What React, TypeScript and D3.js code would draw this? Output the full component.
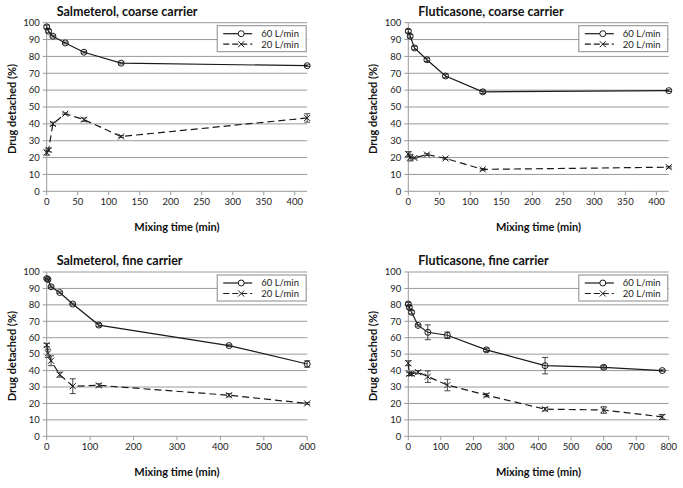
import React from 'react';
import * as d3 from 'd3';

// chart data
const titles = ['Salmeterol, coarse carrier', 'Fluticasone, coarse carrier', 'Salmeterol, fine carrier', 'Fluticasone, fine carrier'];
const seriesNames = ['60 L/min', '20 L/min'];
const yTicks = [0, 10, 20, 30, 40, 50, 60, 70, 80, 90, 100];

const coarseTime = [0, 3, 10, 30, 60, 120, 420];
const salCoarse60 = [97.5, 95, 92, 88, 82.5, 76, 74.5];
const salCoarse60Err = [1, 1, 0.5, 0.5, 0.5, 0.5, 0.5];
const salCoarse20 = [23, 24.5, 40, 46, 42.5, 32.5, 43.5];
const salCoarse20Err = [1.5, 1, 1, 0.5, 1, 0.5, 2.5];

const fluCoarse60 = [95, 92, 85, 78, 68.4, 59, 59.7];
const fluCoarse60Err = [1, 1, 1, 1, 1, 1, 0.5];
const fluCoarse20 = [22, 20, 19.8, 21.8, 19.5, 13, 14.3];
const fluCoarse20Err = [1.5, 2, 0.5, 0.5, 0.5, 0.5, 0.5];

const salFineTime = [0, 3, 10, 30, 60, 120, 420, 600];
const salFine60 = [96, 95.5, 91, 87.5, 80.5, 67.7, 55.2, 44];
const salFine60Err = [0.5, 0.5, 0.5, 0.5, 0.5, 1, 0.5, 2];
const salFine20 = [55.5, 50.5, 46, 37.5, 30.5, 31, 25, 20];
const salFine20Err = [1, 2.5, 3, 1.5, 4.5, 1, 1, 0.5];

const fluFineTime = [0, 3, 10, 30, 60, 120, 240, 420, 600, 780];
const fluFine60 = [80.5, 78.5, 75.5, 67.5, 63.3, 61.5, 52.6, 43, 42, 40];
const fluFine60Err = [1, 1, 1, 0.5, 4.5, 2, 1, 5, 1, 0.5];
const fluFine20 = [44.5, 38, 38, 39, 36.3, 31.2, 25, 16.5, 16, 11.8];
const fluFine20Err = [1.5, 1, 1, 1, 3.5, 3.5, 1, 1, 2, 1.5];

const xTicksCoarse = [0, 50, 100, 150, 200, 250, 300, 350, 400];
const xTicksSalFine = [0, 100, 200, 300, 400, 500, 600];
const xTicksFluFine = [0, 100, 200, 300, 400, 500, 600, 700, 800];

const font = 'Lato, "Liberation Sans", sans-serif';
const ink = '#1a1a1a';
const grid = '#9a9a9a';

type PanelProps = {
  title: string;
  times: number[];
  a: number[]; aErr: number[];
  b: number[]; bErr: number[];
  xMax: number; xTicks: number[];
  left: number; top: number; bottom: number;
};

function XMark({ x, y, s }: { x: number; y: number; s: number }) {
  return (
    <g stroke={ink} strokeWidth={1}>
      <line x1={x - s} y1={y - s} x2={x + s} y2={y + s} />
      <line x1={x - s} y1={y + s} x2={x + s} y2={y - s} />
    </g>
  );
}

function Panel(p: PanelProps) {
  const width = 260.5;
  const x = d3.scaleLinear().domain([0, p.xMax]).range([p.left, p.left + width]);
  const y = d3.scaleLinear().domain([0, 100]).range([p.bottom, p.top]);
  const line = d3.line<number>().x((_, i) => x(p.times[i])).y(d => y(d));
  const right = p.left + width;

  const errBars = (vals: number[], errs: number[]) =>
    vals.map((v, i) => {
      const cx = x(p.times[i]);
      return (
        <g key={'e' + i} stroke="#333" strokeWidth={0.9}>
          <line x1={cx} x2={cx} y1={y(v - errs[i])} y2={y(v + errs[i])} />
          <line x1={cx - 3} x2={cx + 3} y1={y(v - errs[i])} y2={y(v - errs[i])} />
          <line x1={cx - 3} x2={cx + 3} y1={y(v + errs[i])} y2={y(v + errs[i])} />
        </g>
      );
    });

  const lgLeft = right - 90;
  const lgTop = p.top + 3;

  return (
    <g fontFamily={font}>
      {/* gridlines */}
      {yTicks.filter(t => t > 0).map(t => (
        <line key={'g' + t} x1={p.left} x2={right} y1={y(t)} y2={y(t)} stroke={grid} strokeWidth={1} />
      ))}
      {/* axes */}
      <line x1={p.left} x2={p.left} y1={p.top} y2={p.bottom} stroke={grid} />
      <line x1={p.left} x2={right} y1={p.bottom} y2={p.bottom} stroke={grid} />
      {yTicks.map(t => (
        <g key={'y' + t}>
          <line x1={p.left - 4} x2={p.left} y1={y(t)} y2={y(t)} stroke={grid} />
          <text x={p.left - 7} y={y(t)} dy="0.35em" textAnchor="end" fontSize={9.5} fill="#222">{t}</text>
        </g>
      ))}
      {p.xTicks.map(t => (
        <g key={'x' + t}>
          <line x1={x(t)} x2={x(t)} y1={p.bottom} y2={p.bottom + 4} stroke={grid} />
          <text x={x(t)} y={p.bottom + 14} textAnchor="middle" fontSize={9.5} fill="#222">{t}</text>
        </g>
      ))}
      {/* titles */}
      <text x={p.left + 10} y={p.top - 7} fontSize={12.5} fontWeight="bold" fill="#111">{p.title}</text>
      <text x={p.left + width / 2} y={p.bottom + 40} textAnchor="middle" fontSize={11} fontWeight="bold" fill="#111">Mixing time (min)</text>
      <text transform={`translate(${p.left - 31},${(p.top + p.bottom) / 2 + 2}) rotate(-90)`} textAnchor="middle" fontSize={11} fontWeight="bold" fill="#111">Drug detached (%)</text>

      {/* series */}
      <path d={line(p.a) || ''} fill="none" stroke={ink} strokeWidth={1.2} />
      <path d={line(p.b) || ''} fill="none" stroke={ink} strokeWidth={1.2} strokeDasharray="7,4" />
      {errBars(p.a, p.aErr)}
      {errBars(p.b, p.bErr)}
      {p.a.map((v, i) => (
        <circle key={'c' + i} cx={x(p.times[i])} cy={y(v)} r={3} fill="none" stroke={ink} strokeWidth={1} />
      ))}
      {p.b.map((v, i) => <XMark key={'m' + i} x={x(p.times[i])} y={y(v)} s={3} />)}

      {/* legend */}
      <rect x={lgLeft} y={lgTop} width={89} height={26} fill="#fff" stroke="#8a8a8a" strokeWidth={1} />
      {seriesNames.map((name, i) => {
        const ly = lgTop + 8 + i * 10.5;
        return (
          <g key={name}>
            <line x1={lgLeft + 6} x2={lgLeft + 35} y1={ly} y2={ly} stroke={ink} strokeWidth={1.2} strokeDasharray={i === 1 ? '6,3' : undefined} />
            {i === 0
              ? <circle cx={lgLeft + 24} cy={ly} r={3} fill="#fff" stroke={ink} />
              : <XMark x={lgLeft + 24} y={ly} s={3} />}
            <text x={lgLeft + 44} y={ly} dy="0.35em" fontSize={9.5} fill="#222">{name}</text>
          </g>
        );
      })}
    </g>
  );
}

export default function App() {
  return (
    <svg width={683} height={488} style={{ position: 'absolute', left: 0, top: 0, background: '#fff' }}>
      <rect width={683} height={488} fill="#fff" />
      <Panel title={titles[0]} times={coarseTime} a={salCoarse60} aErr={salCoarse60Err} b={salCoarse20} bErr={salCoarse20Err}
        xMax={420} xTicks={xTicksCoarse} left={46.7} top={22.7} bottom={191.3} />
      <Panel title={titles[1]} times={coarseTime} a={fluCoarse60} aErr={fluCoarse60Err} b={fluCoarse20} bErr={fluCoarse20Err}
        xMax={420} xTicks={xTicksCoarse} left={408.3} top={22.7} bottom={191.3} />
      <Panel title={titles[2]} times={salFineTime} a={salFine60} aErr={salFine60Err} b={salFine20} bErr={salFine20Err}
        xMax={600} xTicks={xTicksSalFine} left={46.7} top={272} bottom={436.3} />
      <Panel title={titles[3]} times={fluFineTime} a={fluFine60} aErr={fluFine60Err} b={fluFine20} bErr={fluFine20Err}
        xMax={800} xTicks={xTicksFluFine} left={408.3} top={272} bottom={436.3} />
    </svg>
  );
}
